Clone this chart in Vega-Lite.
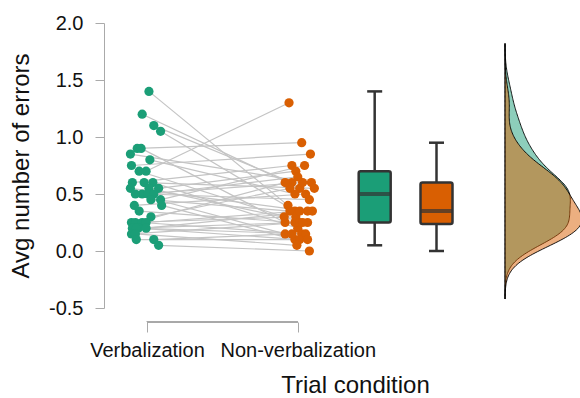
{
  "$schema": "https://vega.github.io/schema/vega-lite/v6.json",
  "padding": {"left": 9, "top": 13, "right": 0, "bottom": 0},
  "config": {
    "font": "Liberation Sans",
    "view": {"stroke": null},
    "axis": {"grid": false, "labelColor": "#111111", "titleColor": "#111111", "titleFontWeight": "normal"}
  },
  "spacing": 33,
  "datasets": {
    "subjects": [
      {"id": 1, "verbal": 1.4, "xv": 1.013, "nonverbal": 0.4, "xn": 1.935},
      {"id": 2, "verbal": 1.2, "xv": 0.968, "nonverbal": 0.55, "xn": 2.013},
      {"id": 3, "verbal": 1.1, "xv": 1.045, "nonverbal": 0.6, "xn": 1.961},
      {"id": 4, "verbal": 1.05, "xv": 1.09, "nonverbal": 0.35, "xn": 1.981},
      {"id": 5, "verbal": 0.9, "xv": 0.935, "nonverbal": 0.95, "xn": 2.026},
      {"id": 6, "verbal": 0.9, "xv": 0.961, "nonverbal": 0.25, "xn": 1.916},
      {"id": 7, "verbal": 0.85, "xv": 0.89, "nonverbal": 0.6, "xn": 2.09},
      {"id": 8, "verbal": 0.8, "xv": 1.019, "nonverbal": 0.5, "xn": 1.981},
      {"id": 9, "verbal": 0.75, "xv": 0.897, "nonverbal": 0.85, "xn": 2.084},
      {"id": 10, "verbal": 0.7, "xv": 0.948, "nonverbal": 0.3, "xn": 1.91},
      {"id": 11, "verbal": 0.7, "xv": 0.994, "nonverbal": 1.3, "xn": 1.942},
      {"id": 12, "verbal": 0.6, "xv": 0.903, "nonverbal": 0.75, "xn": 1.961},
      {"id": 13, "verbal": 0.6, "xv": 1.039, "nonverbal": 0.2, "xn": 2.0},
      {"id": 14, "verbal": 0.6, "xv": 0.981, "nonverbal": 0.55, "xn": 2.11},
      {"id": 15, "verbal": 0.55, "xv": 0.89, "nonverbal": 0.35, "xn": 2.065},
      {"id": 16, "verbal": 0.55, "xv": 1.077, "nonverbal": 0.7, "xn": 1.987},
      {"id": 17, "verbal": 0.55, "xv": 1.013, "nonverbal": 0.25, "xn": 2.065},
      {"id": 18, "verbal": 0.5, "xv": 0.968, "nonverbal": 0.6, "xn": 2.032},
      {"id": 19, "verbal": 0.5, "xv": 1.006, "nonverbal": 0.45, "xn": 2.077},
      {"id": 20, "verbal": 0.5, "xv": 0.923, "nonverbal": 0.15, "xn": 1.916},
      {"id": 21, "verbal": 0.5, "xv": 1.045, "nonverbal": 0.65, "xn": 2.0},
      {"id": 22, "verbal": 0.45, "xv": 1.026, "nonverbal": 0.35, "xn": 1.948},
      {"id": 23, "verbal": 0.45, "xv": 1.09, "nonverbal": 0.75, "xn": 2.045},
      {"id": 24, "verbal": 0.4, "xv": 1.097, "nonverbal": 0.1, "xn": 1.981},
      {"id": 25, "verbal": 0.4, "xv": 0.916, "nonverbal": 0.5, "xn": 2.052},
      {"id": 26, "verbal": 0.35, "xv": 0.948, "nonverbal": 0.25, "xn": 1.981},
      {"id": 27, "verbal": 0.3, "xv": 1.026, "nonverbal": 0.55, "xn": 1.948},
      {"id": 28, "verbal": 0.25, "xv": 0.897, "nonverbal": 0.3, "xn": 1.987},
      {"id": 29, "verbal": 0.25, "xv": 0.923, "nonverbal": 0.6, "xn": 1.916},
      {"id": 30, "verbal": 0.25, "xv": 0.968, "nonverbal": 0.15, "xn": 2.026},
      {"id": 31, "verbal": 0.25, "xv": 0.994, "nonverbal": 0.35, "xn": 2.013},
      {"id": 32, "verbal": 0.2, "xv": 0.903, "nonverbal": 0.25, "xn": 2.013},
      {"id": 33, "verbal": 0.2, "xv": 0.942, "nonverbal": 0.1, "xn": 2.013},
      {"id": 34, "verbal": 0.2, "xv": 0.994, "nonverbal": 0.35, "xn": 2.097},
      {"id": 35, "verbal": 0.2, "xv": 0.929, "nonverbal": 0.15, "xn": 2.052},
      {"id": 36, "verbal": 0.15, "xv": 0.897, "nonverbal": 0.25, "xn": 2.032},
      {"id": 37, "verbal": 0.15, "xv": 0.923, "nonverbal": 0.05, "xn": 1.994},
      {"id": 38, "verbal": 0.1, "xv": 0.929, "nonverbal": 0.1, "xn": 2.065},
      {"id": 39, "verbal": 0.1, "xv": 1.045, "nonverbal": 0.15, "xn": 1.961},
      {"id": 40, "verbal": 0.05, "xv": 1.077, "nonverbal": 0.0, "xn": 2.077}
    ]
  },
  "hconcat": [
    {
      "width": 366,
      "height": 285,
      "data": {"name": "subjects"},
      "layer": [
        {
          "mark": {"type": "rule", "color": "#c4c4c4", "strokeWidth": 1.2},
          "encoding": {
            "x": {
              "field": "xv", "type": "quantitative", "title": "Trial condition",
              "scale": {"domain": [0.748, 3.109], "nice": false, "zero": false},
              "axis": {
                "values": [1, 2],
                "labelExpr": "datum.value == 1 ? 'Verbalization' : 'Non-verbalization'",
                "domain": false,
                "offset": 14,
                "tickSize": 10,
                "tickColor": "#aaaaaa",
                "labelFontSize": 20,
                "labelPadding": 8,
                "titleFontSize": 24,
                "titlePadding": 13,
                "titleX": 251,
                "titleAnchor": null
              }
            },
            "y": {
              "field": "verbal", "type": "quantitative", "title": "Avg number of errors",
              "scale": {"domain": [-0.5, 2], "nice": false},
              "axis": {
                "values": [-0.5, 0, 0.5, 1, 1.5, 2],
                "labelExpr": "replace(format(datum.value, '.1f'), '\u2212', '-')",
                "domainColor": "#aaaaaa",
                "tickColor": "#aaaaaa",
                "tickSize": 9,
                "labelPadding": 12,
                "labelFontSize": 20,
                "titleFontSize": 24,
                "titlePadding": 15
              }
            },
            "x2": {"field": "xn"},
            "y2": {"field": "nonverbal"}
          }
        },
        {
          "mark": {"type": "point", "filled": true, "size": 85, "opacity": 1, "color": "#1b9e77"},
          "encoding": {
            "x": {"field": "xv", "type": "quantitative", "title": "Trial condition"},
            "y": {"field": "verbal", "type": "quantitative", "title": "Avg number of errors"}
          }
        },
        {
          "mark": {"type": "point", "filled": true, "size": 85, "opacity": 1, "color": "#d95f02"},
          "encoding": {
            "x": {"field": "xn", "type": "quantitative", "title": "Trial condition"},
            "y": {"field": "nonverbal", "type": "quantitative", "title": "Avg number of errors"}
          }
        },
        {
          "mark": {
            "type": "boxplot", "extent": "min-max", "orient": "vertical", "size": 32, "color": "#1b9e77",
            "box": {"stroke": "#333333", "strokeWidth": 2.5, "cornerRadius": 2},
            "median": {"color": "#333333", "thickness": 4},
            "rule": {"color": "#333333", "strokeWidth": 2.5},
            "ticks": {"color": "#333333", "size": 15, "thickness": 2.5}
          },
          "encoding": {
            "x": {"datum": 2.51},
            "y": {"field": "verbal", "type": "quantitative", "title": "Avg number of errors"}
          }
        },
        {
          "mark": {
            "type": "boxplot", "extent": 1.5, "outliers": false, "orient": "vertical", "size": 32, "color": "#d95f02",
            "box": {"stroke": "#333333", "strokeWidth": 2.5, "cornerRadius": 2},
            "median": {"color": "#333333", "thickness": 4},
            "rule": {"color": "#333333", "strokeWidth": 2.5},
            "ticks": {"color": "#333333", "size": 15, "thickness": 2.5}
          },
          "encoding": {
            "x": {"datum": 2.92},
            "y": {"field": "nonverbal", "type": "quantitative", "title": "Avg number of errors"}
          }
        },
        {
          "mark": {"type": "rule", "color": "#aaaaaa", "strokeWidth": 1},
          "encoding": {
            "x": {"datum": 1},
            "x2": {"datum": 2},
            "y": {"datum": -0.62}
          }
        }
      ]
    },
    {
      "width": 77,
      "height": 285,
      "data": {"name": "subjects"},
      "layer": [
        {
          "transform": [{"density": "verbal", "bandwidth": 0.14, "extent": [-0.42, 1.82], "steps": 200}],
          "mark": {"type": "area", "orient": "horizontal", "fill": "#1b9e77", "fillOpacity": 0.5, "stroke": "#000000", "strokeWidth": 0.9},
          "encoding": {
            "y": {"field": "value", "type": "quantitative", "scale": {"domain": [-0.5, 2], "nice": false}, "axis": null},
            "x": {"field": "density", "type": "quantitative", "scale": {"nice": false, "zero": true}, "axis": null}
          }
        },
        {
          "transform": [{"density": "nonverbal", "bandwidth": 0.14, "extent": [-0.42, 1.82], "steps": 200}],
          "mark": {"type": "area", "orient": "horizontal", "fill": "#d95f02", "fillOpacity": 0.5, "stroke": "#000000", "strokeWidth": 0.9},
          "encoding": {
            "y": {"field": "value", "type": "quantitative"},
            "x": {"field": "density", "type": "quantitative"}
          }
        }
      ]
    }
  ]
}
